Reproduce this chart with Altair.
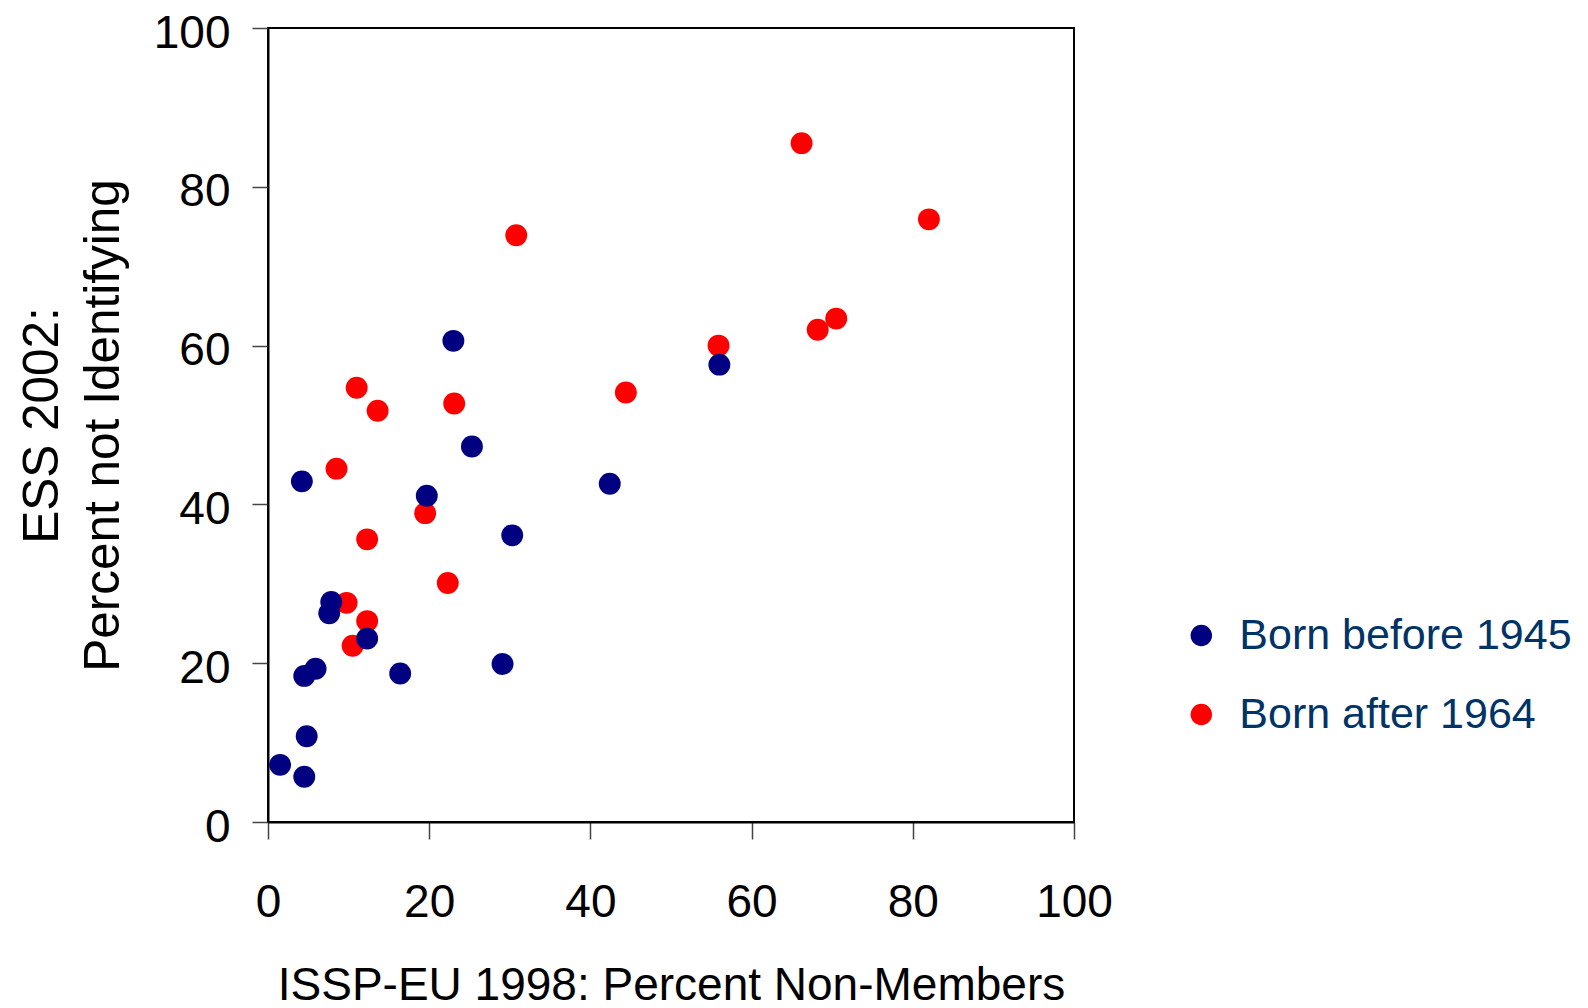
import altair as alt
import pandas as pd

groups = ["Born before 1945", "Born after 1964"]
colors = ["#000080", "#FF0000"]

before_x = [1.5, 4.5, 4.8, 4.5, 5.9, 4.2, 7.85, 7.6, 12.3, 16.4, 29.1, 30.3, 19.7, 25.3, 23.0, 42.4, 56.0]
before_y = [7.2, 5.7, 10.8, 18.4, 19.3, 42.9, 27.7, 26.3, 23.1, 18.7, 19.9, 36.1, 41.1, 47.3, 60.6, 42.6, 57.6]

after_x = [66.2, 82.0, 30.8, 70.5, 68.2, 55.9, 44.4, 11.0, 13.6, 23.1, 8.5, 19.5, 12.3, 22.3, 9.75, 12.3, 10.5]
after_y = [85.5, 75.9, 73.9, 63.4, 62.0, 60.0, 54.1, 54.7, 51.8, 52.7, 44.5, 38.9, 35.6, 30.1, 27.6, 25.3, 22.2]

ticks = [0, 20, 40, 60, 80, 100]

rows = []
for x, y in zip(after_x, after_y):
    rows.append({"x": x, "y": y, "group": groups[1]})
for x, y in zip(before_x, before_y):
    rows.append({"x": x, "y": y, "group": groups[0]})
df = pd.DataFrame(rows)

FONT = "Liberation Sans"

chart = alt.Chart(df).mark_circle(size=480, opacity=1).encode(
    x=alt.X("x:Q",
            scale=alt.Scale(domain=[0, 100], nice=False),
            axis=alt.Axis(values=ticks, title="ISSP-EU 1998: Percent Non-Members",
                          grid=False, tickSize=17, labelPadding=77.7,
                          labelBaseline="alphabetic", labelFlush=False, labelOverlap=False,
                          labelFontSize=46, labelFont=FONT, labelColor="black",
                          titleFontSize=46, titleFont=FONT, titleFontWeight="normal",
                          titleColor="black", titleBaseline="alphabetic", titleAlign="center",
                          titleX=403, titleY=177,
                          domainColor="black", domainWidth=2,
                          tickColor="#444444", tickWidth=1.5)),
    y=alt.Y("y:Q",
            scale=alt.Scale(domain=[0, 100], nice=False),
            axis=alt.Axis(values=ticks, title=["ESS 2002:", "Percent not Identifying"],
                          grid=False, tickSize=16, labelPadding=22,
                          labelAlign="right", labelBaseline="alphabetic", labelOffset=19,
                          labelFlush=False, labelOverlap=False,
                          labelFontSize=46, labelFont=FONT, labelColor="black",
                          titleFontSize=49.5, titleFont=FONT, titleFontWeight="normal",
                          titleColor="black", titleBaseline="alphabetic", titleAlign="center",
                          titleAngle=270, titleLineHeight=61,
                          titleX=-211, titleY=397,
                          domainColor="black", domainWidth=2,
                          tickColor="#444444", tickWidth=1.5)),
    color=alt.Color("group:N",
                    scale=alt.Scale(domain=groups, range=colors),
                    legend=alt.Legend(title=None, orient="none", legendX=911.8, legendY=586,
                                      symbolSize=460, symbolType="circle", symbolStrokeWidth=0,
                                      labelFontSize=43, labelFont=FONT, labelColor="#003366",
                                      labelOffset=16.5, rowPadding=35, padding=0, labelLimit=0)),
).properties(
    width=806, height=794,
    autosize=alt.AutoSizeParams(type="none"),
    padding={"left": 260, "top": 20, "right": 500, "bottom": 178},
).configure_view(stroke="black", strokeWidth=2)

chart.save("out.html", embed_options={"renderer": "svg", "actions": False})
